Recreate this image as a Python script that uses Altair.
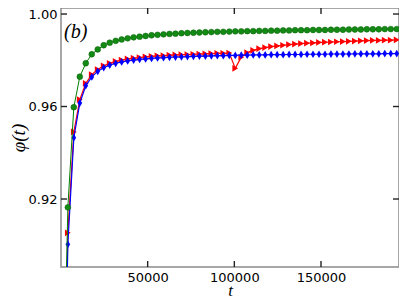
import altair as alt
import pandas as pd

t_vals = [500, 3950, 7400, 10850, 14300, 17750, 21200, 24650, 28100, 31550,
          35000, 38450, 41900, 45350, 48800, 52250, 55700, 59150, 62600, 66050,
          69500, 72950, 76400, 79850, 83300, 86750, 90200, 93650, 97100, 100550,
          104000, 107450, 110900, 114350, 117800, 121250, 124700, 128150, 131600, 135050,
          138500, 141950, 145400, 148850, 152300, 155750, 159200, 162650, 166100, 169550,
          173000, 176450, 179900, 183350, 186800, 190250, 193700]

green = [0.800, 0.9164, 0.9597, 0.9729, 0.9787, 0.9826, 0.9847, 0.9865, 0.9876, 0.9884,
         0.9890, 0.9895, 0.9899, 0.9902, 0.9905, 0.9908, 0.9910, 0.9912, 0.9914, 0.9915,
         0.9917, 0.9918, 0.9919, 0.9920, 0.9921, 0.9922, 0.9923, 0.9923, 0.9924, 0.9925,
         0.9925, 0.9926, 0.9926, 0.9927, 0.9927, 0.9928, 0.9928, 0.9929, 0.9929, 0.9930,
         0.9930, 0.9930, 0.9931, 0.9931, 0.9931, 0.9932, 0.9932, 0.9932, 0.9933, 0.9933,
         0.9933, 0.9934, 0.9934, 0.9934, 0.9935, 0.9935, 0.9935]

red = [0.770, 0.9054, 0.9490, 0.9630, 0.9700, 0.9738, 0.9760, 0.9776, 0.9787, 0.9795,
       0.9801, 0.9806, 0.9809, 0.9812, 0.9815, 0.9817, 0.9819, 0.9820, 0.9822, 0.9823,
       0.9824, 0.9825, 0.9826, 0.9827, 0.9828, 0.9829, 0.9830, 0.9830, 0.9831, 0.9765,
       0.9813, 0.9833, 0.9843, 0.9850, 0.9855, 0.9859, 0.9862, 0.9865, 0.9868, 0.9870,
       0.9872, 0.9874, 0.9875, 0.9877, 0.9878, 0.9879, 0.9880, 0.9881, 0.9882, 0.9883,
       0.9884, 0.9885, 0.9886, 0.9886, 0.9887, 0.9887, 0.9888]

blue = [0.760, 0.9004, 0.9465, 0.9615, 0.9690, 0.9728, 0.9752, 0.9768, 0.9779, 0.9787,
        0.9793, 0.9797, 0.9801, 0.9804, 0.9806, 0.9808, 0.9810, 0.9811, 0.9813, 0.9814,
        0.9815, 0.9816, 0.9817, 0.9818, 0.9818, 0.9819, 0.9820, 0.9820, 0.9821, 0.9821,
        0.9822, 0.9822, 0.9823, 0.9823, 0.9823, 0.9824, 0.9824, 0.9824, 0.9825, 0.9825,
        0.9825, 0.9826, 0.9826, 0.9826, 0.9826, 0.9827, 0.9827, 0.9827, 0.9827, 0.9828,
        0.9828, 0.9828, 0.9828, 0.9828, 0.9829, 0.9829, 0.9829]

x_ticks = [50000, 100000, 150000]
y_ticks = [0.92, 0.96, 1.00]

W, H = 338, 259
TICK = 6

df_g = pd.DataFrame({"t": t_vals, "phi": green})
df_r = pd.DataFrame({"t": t_vals, "phi": red})
df_b = pd.DataFrame({"t": t_vals, "phi": blue})
df_xt = pd.DataFrame({"t": x_ticks})
df_yt = pd.DataFrame({"phi": y_ticks})

xscale = alt.Scale(domain=[0, 195000], nice=False, zero=False)
yscale = alt.Scale(domain=[0.8906, 1.0026], nice=False, zero=False)

x_bottom = alt.X("t:Q", scale=xscale, axis=alt.Axis(
    orient="bottom", values=x_ticks, ticks=False, domain=False, grid=False,
    labelPadding=4, title="t", titleFont="Liberation Serif", titleFontStyle="italic",
    titleFontWeight="normal", titleFontSize=17, titlePadding=-2, format="d"))
y_left = alt.Y("phi:Q", scale=yscale, axis=alt.Axis(
    orient="left", values=y_ticks, ticks=False, domain=False, grid=False,
    labelPadding=4, format=".2f", title="φ(t)", titleFont="Liberation Serif",
    titleFontStyle="italic", titleFontWeight="normal", titleFontSize=19, titlePadding=0))

diamond = "M0,-1L0.6,0L0,1L-0.6,0Z"
tick_style = dict(color="#222222", strokeWidth=1.4)

ticks_bottom = alt.Chart(df_xt).mark_rule(**tick_style).encode(x="t:Q", y=alt.value(H - TICK), y2=alt.value(H))
ticks_top = alt.Chart(df_xt).mark_rule(**tick_style).encode(x="t:Q", y=alt.value(0), y2=alt.value(TICK))
ticks_left = alt.Chart(df_yt).mark_rule(**tick_style).encode(y="phi:Q", x=alt.value(0), x2=alt.value(TICK))
ticks_right = alt.Chart(df_yt).mark_rule(**tick_style).encode(y="phi:Q", x=alt.value(W - TICK), x2=alt.value(W))

red_line = alt.Chart(df_r).mark_line(color="#ff0000", strokeWidth=1.2, clip=True).encode(x=x_bottom, y=y_left)
red_pts = alt.Chart(df_r).mark_point(shape="triangle-right", filled=True, color="#ff0000",
                                      size=45, opacity=1, clip=True).encode(x="t:Q", y="phi:Q")
blue_line = alt.Chart(df_b).mark_line(color="#0000ff", strokeWidth=1.2, clip=True).encode(x="t:Q", y="phi:Q")
blue_pts = alt.Chart(df_b).mark_point(shape=diamond, filled=True, color="#0000ff",
                                       size=60, opacity=1, clip=True).encode(x="t:Q", y="phi:Q")
green_line = alt.Chart(df_g).mark_line(color="#008000", strokeWidth=1.0, clip=True).encode(x="t:Q", y="phi:Q")
green_pts = alt.Chart(df_g).mark_point(shape="circle", filled=True, fill="#138a13", stroke="#0b5e0b",
                                        strokeWidth=0.5, size=34, opacity=1, clip=True).encode(x="t:Q", y="phi:Q")

label = alt.Chart(pd.DataFrame({"txt": ["(b)"]})).mark_text(
    font="Liberation Serif", fontStyle="italic", fontSize=20, align="left", baseline="middle",
    color="black").encode(text="txt:N", x=alt.value(3), y=alt.value(24))

chart = alt.layer(red_line, red_pts, blue_line, blue_pts, green_line, green_pts,
                  ticks_bottom, ticks_top, ticks_left, ticks_right, label).properties(
    width=W, height=H,
    autosize=alt.AutoSizeParams(type="none"),
    padding={"left": 53, "top": 0, "right": 0, "bottom": 29},
).configure_view(stroke="#8a8a8a", strokeWidth=1.5).configure_axis(
    labelFont="DejaVu Sans", labelFontSize=13, labelColor="black", titleColor="black"
)

chart.save("out.html", embed_options={"renderer": "svg", "actions": False})
